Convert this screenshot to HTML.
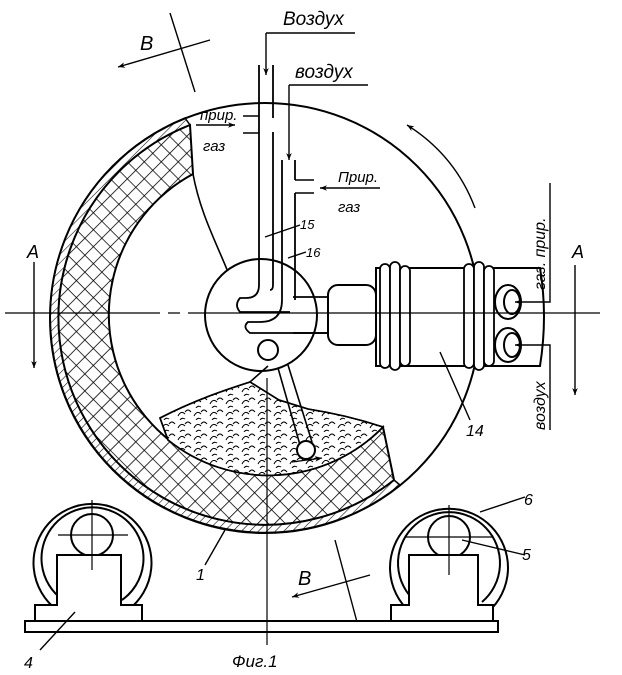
<!DOCTYPE html>
<html><head><meta charset="utf-8"><style>
html,body{margin:0;padding:0;background:#fff}
svg{display:block}
text{font-family:"Liberation Sans",sans-serif;font-style:italic;fill:#000}
</style></head><body>
<svg width="622" height="675" viewBox="0 0 622 675" xmlns="http://www.w3.org/2000/svg">
<defs>
<pattern id="xh" width="12" height="12" patternUnits="userSpaceOnUse" patternTransform="rotate(45)">
<path d="M0,0 H12 M0,0 V12" stroke="#000" stroke-width="1.6" fill="none"/>
</pattern>
<pattern id="hs" width="6" height="6" patternUnits="userSpaceOnUse" patternTransform="rotate(45)">
<path d="M0,0 V6" stroke="#000" stroke-width="1.1"/>
</pattern>
<pattern id="bed" width="16" height="12" patternUnits="userSpaceOnUse">
<path d="M2,8 q3,-6 7,-2 M9,4 q3,-4 6,0 M4,12 q2,-3 5,-1" stroke="#000" stroke-width="1" fill="none"/>
</pattern>
<marker id="ar" viewBox="0 0 10 10" refX="10" refY="5" markerWidth="9" markerHeight="7" orient="auto" markerUnits="userSpaceOnUse">
<path d="M0,1 L10,5 L0,9 L3,5 Z" fill="#000"/>
</marker>
</defs>
<g fill="none" stroke="#000" stroke-width="2">
<circle cx="265" cy="318" r="215"/>
<path d="M185,118 A215,215 0 1,0 400,485 L394,480 A207,207 0 1,1 190,125 Z" fill="url(#hs)" stroke-width="1.5"/>
<path d="M190,125 A207,207 0 1,0 394,480 L383,427 A160,160 0 1,1 193,174 Z" fill="url(#xh)"/>
<path d="M160,418 C195,400 225,390 250,382 L279,400 L308,409 C340,414 362,420 383,427 A160,160 0 0,1 168,440 Z" fill="#fff" stroke-width="1.6"/>
<path d="M160,418 C195,400 225,390 250,382 L279,400 L308,409 C340,414 362,420 383,427 A160,160 0 0,1 168,440 Z" fill="url(#bed)" stroke-width="1.6"/>
<path d="M193,174 C200,212 215,240 228,272" stroke-width="1.6"/>
<circle cx="261" cy="315" r="56" fill="#fff"/>
<path d="M250,382 L268,366 M278,368 L300,445 M288,365 L312,442" stroke-width="1.6"/>
<circle cx="306" cy="450" r="9" fill="#fff"/>
<path d="M292,462 L322,458" stroke-width="1.2" marker-end="url(#ar)"/>
<circle cx="268" cy="350" r="10" fill="#fff"/>
<path d="M259,65 V285 Q259,298 246,298 H240 Q234,305 240,312 H290" stroke-width="1.8"/>
<path d="M273,65 V118 M273,132 V285 Q273,290 270,290" stroke-width="1.8"/>
<path d="M243,116 H259 M243,133 H259" stroke-width="1.6"/>
<path d="M282,160 V300 Q282,322 260,322 H248 Q242,327 250,333 H330" stroke-width="1.8"/>
<path d="M295,160 V180 M295,193 V300" stroke-width="1.8"/>
<path d="M295,180 H314 M295,193 H314" stroke-width="1.6"/>
<path d="M293,297 H330 M293,333 H330" stroke-width="1.8"/>
<rect x="328" y="285" width="48" height="60" rx="10" fill="#fff"/>
<path d="M376,268 H540 Q548,316 540,366 H376 Z" fill="#fff"/>
<g stroke-width="1.8">
<rect x="380" y="264" width="10" height="104" rx="5" fill="#fff"/>
<rect x="390" y="262" width="10" height="108" rx="5" fill="#fff"/>
<rect x="400" y="266" width="10" height="100" rx="5" fill="#fff"/>
<rect x="464" y="264" width="10" height="104" rx="5" fill="#fff"/>
<rect x="474" y="262" width="10" height="108" rx="5" fill="#fff"/>
<rect x="484" y="266" width="10" height="100" rx="5" fill="#fff"/>
</g>
<ellipse cx="508" cy="302" rx="13" ry="17"/>
<ellipse cx="512" cy="302" rx="8" ry="12"/>
<ellipse cx="508" cy="345" rx="13" ry="17"/>
<ellipse cx="512" cy="345" rx="8" ry="12"/>
<path d="M57,610 A59,59 0 1,1 128,610" fill="#fff"/>
<path d="M63,600 A51,51 0 1,1 122,600" />
<circle cx="92" cy="535" r="21"/>
<path d="M410,612 A59,59 0 1,1 488,612" fill="#fff"/>
<path d="M416,602 A51,51 0 1,1 482,602"/>
<circle cx="449" cy="537" r="21"/>
<path d="M35,621 V605 H57 V555 H121 V605 H142 V621" fill="#fff"/>
<path d="M391,621 V605 H409 V555 H478 V605 H493 V621" fill="#fff"/>
<rect x="25" y="621" width="473" height="11" fill="#fff"/>
</g>
<g stroke="#000" stroke-width="1.2" fill="none">
<path d="M5,313 H160 M168,313 H180 M188,313 H600"/>
<path d="M267,378 V645"/>
<path d="M58,535 H128 M92,500 V570 M405,537 H493 M449,505 V575"/>
</g>
<g stroke="#000" stroke-width="1.4" fill="none">
<path d="M266,33 H355 M266,33 V75" marker-end="url(#ar)"/>
<path d="M289,85 H368 M289,85 V160" marker-end="url(#ar)"/>
<path d="M196,125 H235" marker-end="url(#ar)"/>
<path d="M380,188 H320" marker-end="url(#ar)"/>
<path d="M550,183 V302 H515" marker-end="url(#ar)"/>
<path d="M550,430 V345 H515" marker-end="url(#ar)"/>
<path d="M475,208 Q455,155 407,125" marker-end="url(#ar)"/>
<path d="M170,13 L195,92"/>
<path d="M210,40 L118,67" marker-end="url(#ar)"/>
<path d="M34,262 V368" marker-end="url(#ar)"/>
<path d="M575,265 V395" marker-end="url(#ar)"/>
<path d="M265,237 L300,225 M288,258 L306,252"/>
<path d="M440,352 L470,420"/>
<path d="M205,565 L225,530"/>
<path d="M370,575 L292,597" marker-end="url(#ar)"/>
<path d="M335,540 L357,622"/>
<path d="M480,512 L525,497 M462,540 L525,555 M40,650 L75,612"/>
</g>
<text x="283" y="25" font-size="19">Воздух</text>
<text x="295" y="78" font-size="19">воздух</text>
<text x="200" y="120" font-size="15">прир.</text>
<text x="203" y="151" font-size="15">газ</text>
<text x="338" y="182" font-size="15">Прир.</text>
<text x="338" y="212" font-size="15">газ</text>
<text x="300" y="229" font-size="13">15</text>
<text x="306" y="257" font-size="13">16</text>
<text x="140" y="50" font-size="20" font-style="normal">B</text>
<text x="27" y="258" font-size="18">A</text>
<text x="572" y="258" font-size="18">A</text>
<text x="466" y="436" font-size="16">14</text>
<text x="196" y="580" font-size="16">1</text>
<text x="298" y="585" font-size="20" font-style="normal">B</text>
<text x="524" y="505" font-size="16">6</text>
<text x="522" y="560" font-size="16">5</text>
<text x="24" y="668" font-size="16">4</text>
<text x="232" y="667" font-size="17">Фиг.1</text>
<text transform="translate(545,290) rotate(-90)" font-size="16">газ. прир.</text>
<text transform="translate(545,430) rotate(-90)" font-size="16">воздух</text>
</svg>
</body></html>
